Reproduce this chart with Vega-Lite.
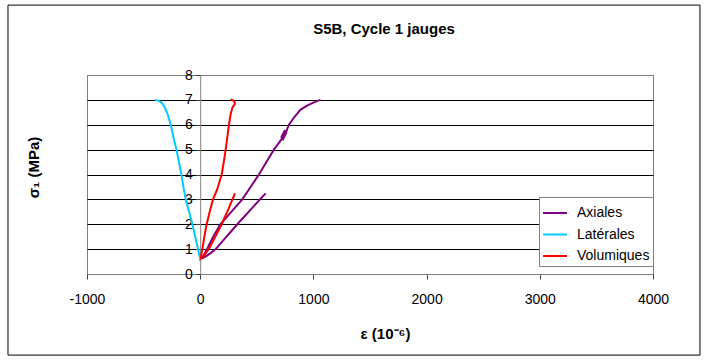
{
  "$schema": "https://vega.github.io/schema/vega-lite/v6.json",
  "width": 566,
  "height": 199,
  "autosize": {"type": "none"},
  "padding": {"left": 87, "top": 75, "right": 54, "bottom": 89},
  "background": "white",
  "title": {"text": "S5B, Cycle 1 jauges", "font": "Liberation Sans", "fontSize": 15, "fontWeight": "bold", "anchor": "middle", "frame": "group", "dx": 14, "offset": -32, "color": "black"},
  "config": {"view": {"stroke": "#808080", "strokeWidth": 1}, "font": "Liberation Sans"},
  "datasets": {
    "curves": [
      {"s": "Axiales", "i": 1, "x": 578, "y": 3.24},
      {"s": "Axiales", "i": 2, "x": 528, "y": 3.0},
      {"s": "Axiales", "i": 3, "x": 478, "y": 2.75},
      {"s": "Axiales", "i": 4, "x": 428, "y": 2.5},
      {"s": "Axiales", "i": 5, "x": 378, "y": 2.25},
      {"s": "Axiales", "i": 6, "x": 328, "y": 2.0},
      {"s": "Axiales", "i": 7, "x": 280, "y": 1.75},
      {"s": "Axiales", "i": 8, "x": 232, "y": 1.5},
      {"s": "Axiales", "i": 9, "x": 185, "y": 1.25},
      {"s": "Axiales", "i": 10, "x": 137, "y": 1.0},
      {"s": "Axiales", "i": 11, "x": 95, "y": 0.85},
      {"s": "Axiales", "i": 12, "x": 60, "y": 0.74},
      {"s": "Axiales", "i": 13, "x": 30, "y": 0.66},
      {"s": "Axiales", "i": 14, "x": 8, "y": 0.62},
      {"s": "Axiales", "i": 15, "x": 25, "y": 0.7},
      {"s": "Axiales", "i": 16, "x": 60, "y": 1.0},
      {"s": "Axiales", "i": 17, "x": 115, "y": 1.5},
      {"s": "Axiales", "i": 18, "x": 178, "y": 2.0},
      {"s": "Axiales", "i": 19, "x": 275, "y": 2.5},
      {"s": "Axiales", "i": 20, "x": 372, "y": 3.0},
      {"s": "Axiales", "i": 21, "x": 445, "y": 3.5},
      {"s": "Axiales", "i": 22, "x": 519, "y": 4.0},
      {"s": "Axiales", "i": 23, "x": 585, "y": 4.5},
      {"s": "Axiales", "i": 24, "x": 651, "y": 5.0},
      {"s": "Axiales", "i": 25, "x": 700, "y": 5.3},
      {"s": "Axiales", "i": 26, "x": 740, "y": 5.55},
      {"s": "Axiales", "i": 27, "x": 758, "y": 5.72},
      {"s": "Axiales", "i": 28, "x": 745, "y": 5.75},
      {"s": "Axiales", "i": 29, "x": 718, "y": 5.5},
      {"s": "Axiales", "i": 30, "x": 732, "y": 5.42},
      {"s": "Axiales", "i": 31, "x": 755, "y": 5.62},
      {"s": "Axiales", "i": 32, "x": 770, "y": 5.85},
      {"s": "Axiales", "i": 33, "x": 784, "y": 6.0},
      {"s": "Axiales", "i": 34, "x": 830, "y": 6.3},
      {"s": "Axiales", "i": 35, "x": 885, "y": 6.6},
      {"s": "Axiales", "i": 36, "x": 940, "y": 6.76},
      {"s": "Axiales", "i": 37, "x": 990, "y": 6.87},
      {"s": "Axiales", "i": 38, "x": 1030, "y": 6.95},
      {"s": "Axiales", "i": 39, "x": 1063, "y": 7.0},
      {"s": "Latérales", "i": 1, "x": -2, "y": 0.65},
      {"s": "Latérales", "i": 2, "x": -8, "y": 0.75},
      {"s": "Latérales", "i": 3, "x": -19, "y": 1.0},
      {"s": "Latérales", "i": 4, "x": -44, "y": 1.5},
      {"s": "Latérales", "i": 5, "x": -69, "y": 2.0},
      {"s": "Latérales", "i": 6, "x": -98, "y": 2.5},
      {"s": "Latérales", "i": 7, "x": -128, "y": 3.0},
      {"s": "Latérales", "i": 8, "x": -148, "y": 3.5},
      {"s": "Latérales", "i": 9, "x": -166, "y": 4.0},
      {"s": "Latérales", "i": 10, "x": -188, "y": 4.5},
      {"s": "Latérales", "i": 11, "x": -210, "y": 5.0},
      {"s": "Latérales", "i": 12, "x": -236, "y": 5.5},
      {"s": "Latérales", "i": 13, "x": -260, "y": 6.0},
      {"s": "Latérales", "i": 14, "x": -290, "y": 6.45},
      {"s": "Latérales", "i": 15, "x": -318, "y": 6.75},
      {"s": "Latérales", "i": 16, "x": -348, "y": 6.92},
      {"s": "Latérales", "i": 17, "x": -378, "y": 6.98},
      {"s": "Latérales", "i": 18, "x": -400, "y": 7.0},
      {"s": "Volumiques", "i": 1, "x": 307, "y": 3.24},
      {"s": "Volumiques", "i": 2, "x": 280, "y": 2.95},
      {"s": "Volumiques", "i": 3, "x": 248, "y": 2.6},
      {"s": "Volumiques", "i": 4, "x": 190, "y": 2.0},
      {"s": "Volumiques", "i": 5, "x": 133, "y": 1.5},
      {"s": "Volumiques", "i": 6, "x": 75, "y": 1.0},
      {"s": "Volumiques", "i": 7, "x": 40, "y": 0.78},
      {"s": "Volumiques", "i": 8, "x": 15, "y": 0.66},
      {"s": "Volumiques", "i": 9, "x": 3, "y": 0.62},
      {"s": "Volumiques", "i": 10, "x": 19, "y": 1.0},
      {"s": "Volumiques", "i": 11, "x": 37, "y": 1.5},
      {"s": "Volumiques", "i": 12, "x": 57, "y": 2.0},
      {"s": "Volumiques", "i": 13, "x": 84, "y": 2.5},
      {"s": "Volumiques", "i": 14, "x": 113, "y": 3.0},
      {"s": "Volumiques", "i": 15, "x": 150, "y": 3.4},
      {"s": "Volumiques", "i": 16, "x": 190, "y": 4.0},
      {"s": "Volumiques", "i": 17, "x": 208, "y": 4.5},
      {"s": "Volumiques", "i": 18, "x": 225, "y": 5.0},
      {"s": "Volumiques", "i": 19, "x": 240, "y": 5.5},
      {"s": "Volumiques", "i": 20, "x": 254, "y": 6.0},
      {"s": "Volumiques", "i": 21, "x": 268, "y": 6.4},
      {"s": "Volumiques", "i": 22, "x": 285, "y": 6.7},
      {"s": "Volumiques", "i": 23, "x": 307, "y": 6.84},
      {"s": "Volumiques", "i": 24, "x": 300, "y": 6.95},
      {"s": "Volumiques", "i": 25, "x": 282, "y": 7.0},
      {"s": "Volumiques", "i": 26, "x": 269, "y": 7.02}
    ]
  },
  "layer": [
    {
      "data": {"name": "curves"},
      "mark": {"type": "line", "strokeWidth": 2, "clip": false},
      "encoding": {
        "x": {
          "field": "x", "type": "quantitative",
          "scale": {"domain": [-1000, 4000], "nice": false},
          "axis": {
            "title": "ε (10⁻⁶)", "values": [-1000, 0, 1000, 2000, 3000, 4000], "labelExpr": "'' + datum.value", "grid": false,
            "domainColor": "#808080", "tickColor": "#404040", "tickSize": 5,
            "labelFontSize": 14, "labelColor": "black", "labelPadding": 13, "labelFlush": false,
            "titleFontSize": 15, "titleFontWeight": "bold", "titleColor": "black",
            "titleX": 298, "titleY": 59, "titleAlign": "center", "titleBaseline": "middle"
          }
        },
        "y": {
          "field": "y", "type": "quantitative",
          "scale": {"domain": [0, 8], "nice": false},
          "axis": {
            "title": "σ₁ (MPa)", "values": [0, 1, 2, 3, 4, 5, 6, 7, 8], "tickCount": 9, "format": "d", "offset": -113.2,
            "grid": true, "gridColor": {"condition": {"test": "datum.value == 8", "value": "#808080"}, "value": "black"}, "gridOpacity": 1,
            "domainColor": "#808080", "tickColor": "#404040", "tickSize": 5,
            "labelFontSize": 14, "labelColor": "black", "labelPadding": 3, "labelFlush": false, "labelOverlap": false,
            "titleFontSize": 15, "titleFontWeight": "bold", "titleColor": "black",
            "titleX": -167, "titleY": 92, "titleAngle": -90, "titleAlign": "center", "titleBaseline": "middle"
          }
        },
        "color": {
          "field": "s", "type": "nominal",
          "scale": {"domain": ["Axiales", "Latérales", "Volumiques"], "range": ["#800080", "#00CCFF", "#FF0000"]},
          "legend": {
            "title": null, "orient": "none", "legendX": 452, "legendY": 122,
            "fillColor": "white", "strokeColor": "#808080", "padding": 3,
            "symbolType": "stroke", "symbolSize": 576, "symbolStrokeWidth": 2,
            "labelFontSize": 14, "labelColor": "black", "labelOffset": 9, "rowPadding": 1.5
          }
        },
        "order": {"field": "i", "type": "quantitative"}
      }
    },
    {
      "data": {"values": [{}]},
      "mark": {"type": "rect", "fill": "white", "fillOpacity": 0, "stroke": "black", "strokeWidth": 1, "clip": false},
      "encoding": {
        "x": {"datum": -1698, "type": "quantitative"},
        "x2": {"datum": 4415},
        "y": {"datum": 10.81, "type": "quantitative"},
        "y2": {"datum": -3.26}
      }
    }
  ]
}
